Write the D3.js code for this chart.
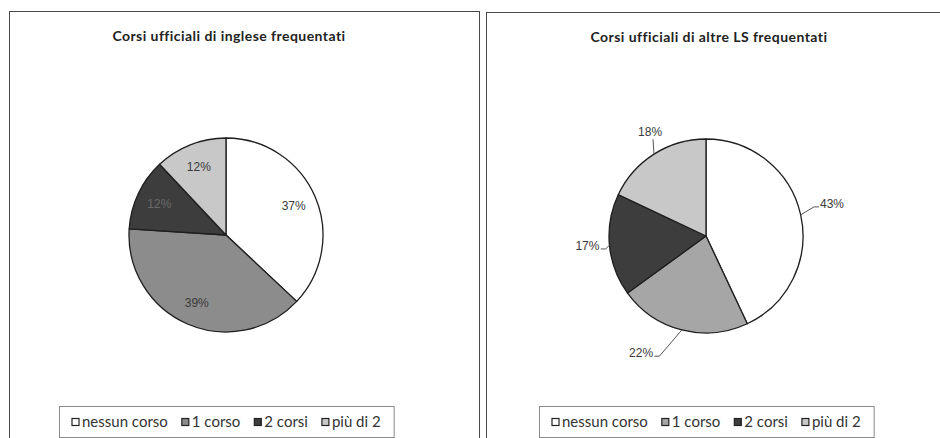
<!DOCTYPE html>
<html>
<head>
<meta charset="utf-8">
<script src="https://cdn.jsdelivr.net/npm/d3@7"></script>
<style>
  html, body { margin: 0; padding: 0; background: #fff; }
  svg { display: block; }
</style>
</head>
<body>
<svg id="chart" width="940" height="438"></svg>
<script>
// Categories shared by both pies
const categories = ["nessun corso", "1 corso", "2 corsi", "più di 2"];

// Percentages per chart
const ingleseValues = [37, 39, 12, 12];
const altreValues = [43, 22, 17, 18];

const titles = ["Corsi ufficiali di inglese frequentati", "Corsi ufficiali di altre LS frequentati"];

// Slice fills (left chart uses a darker mid grey than the right one)
const ingleseColors = ["#ffffff", "#8c8c8c", "#3d3d3d", "#c8c8c8"];
const altreColors = ["#ffffff", "#a6a6a6", "#3d3d3d", "#c8c8c8"];

// Callout placement for the second chart: [angle nudge in degrees, distance beyond the rim]
const calloutNudge = [[-1.7, 33], [14.6, 37], [0.6, 22], [4.1, 21]];

const svg = d3.select("#chart");
const R = 97;

const panels = [
  { x: 9, y: 11, w: 470, cx: 226, cy: 235, values: ingleseValues, colors: ingleseColors, title: titles[0], outside: false },
  { x: 486, y: 12, w: 470, cx: 706, cy: 236, values: altreValues, colors: altreColors, title: titles[1], outside: true }
];

const pie = d3.pie().sort(null).value(d => d);
const arc = d3.arc().innerRadius(0).outerRadius(R);
const labelFont = "'Liberation Sans', Arial, sans-serif";
const textFont = "Lato, 'Open Sans', sans-serif";

panels.forEach(p => {
  const g = svg.append("g");

  // panel frame (runs past the bottom edge)
  g.append("rect")
    .attr("x", p.x + 0.5).attr("y", p.y + 0.5)
    .attr("width", p.w).attr("height", 460)
    .attr("fill", "none").attr("stroke", "#4a4a4a").attr("stroke-width", 1);

  // title
  g.append("text")
    .attr("x", p.cx + 3).attr("y", p.y + 30)
    .attr("text-anchor", "middle")
    .attr("font-family", textFont)
    .attr("font-weight", "bold")
    .attr("font-size", 14)
    .attr("letter-spacing", 0.45)
    .attr("fill", "#222")
    .text(p.title);

  const pg = g.append("g").attr("transform", `translate(${p.cx},${p.cy})`);
  const arcs = pie(p.values);

  pg.selectAll("path.slice").data(arcs).join("path")
    .attr("class", "slice")
    .attr("d", arc)
    .attr("fill", (d, i) => p.colors[i])
    .attr("stroke", "#1e1e1e")
    .attr("stroke-width", 1.3)
    .attr("stroke-linejoin", "round");

  if (!p.outside) {
    // labels inside the slices
    const inner = d3.arc().innerRadius(R * 0.76).outerRadius(R * 0.76);
    pg.selectAll("text.lbl").data(arcs).join("text")
      .attr("class", "lbl")
      .attr("transform", d => `translate(${inner.centroid(d)})`)
      .attr("text-anchor", "middle")
      .attr("dy", "0.35em")
      .attr("font-family", labelFont)
      .attr("font-size", 12)
      .attr("fill", (d, i) => i === 2 ? "#6a6a6a" : "#3a3a3a")
      .text(d => d.data + "%");
  } else {
    // callout labels outside the pie with leader lines
    arcs.forEach((d, i) => {
      const mid = (d.startAngle + d.endAngle) / 2;
      const la = mid + calloutNudge[i][0] * Math.PI / 180;
      const lr = R + calloutNudge[i][1];
      const lx = lr * Math.sin(la), ly = -lr * Math.cos(la);
      const t = pg.append("text")
        .attr("x", lx).attr("y", ly)
        .attr("text-anchor", "middle")
        .attr("dy", "0.35em")
        .attr("font-family", labelFont)
        .attr("font-size", 12)
        .attr("fill", "#3a3a3a")
        .text(d.data + "%");
      const bb = t.node().getBBox();
      const ex = R * Math.sin(mid), ey = -R * Math.cos(mid);
      let pts;
      const dx = lx - ex, dy = ly - ey;
      if (Math.abs(dy) > Math.abs(dx) * 1.5) {
        const ty = dy < 0 ? bb.y + bb.height : bb.y;
        pts = [[ex, ey], [ex - 1, ty]];
      } else {
        const tx = dx > 0 ? bb.x - 1 : bb.x + bb.width + 1;
        const stub = dx > 0 ? -5 : 5;
        pts = [[ex, ey], [tx + stub, ly + 3], [tx, ly + 3]];
      }
      pg.append("path")
        .attr("d", d3.line()(pts))
        .attr("fill", "none")
        .attr("stroke", "#555")
        .attr("stroke-width", 1);
    });
  }

  // legend
  const lg = g.append("g");
  const items = lg.selectAll("g.item").data(categories).join("g").attr("class", "item");
  items.append("rect")
    .attr("width", 7).attr("height", 7)
    .attr("y", -3.5)
    .attr("fill", (d, i) => p.colors[i])
    .attr("stroke", "#222").attr("stroke-width", 1.2);
  items.append("text")
    .attr("x", 10).attr("dy", "0.33em")
    .attr("font-family", textFont)
    .attr("font-size", 15)
    .attr("fill", "#333")
    .text(d => d);

  const gap = 14;
  const offsets = [];
  let xoff = 0;
  items.each(function () {
    offsets.push(xoff);
    xoff += this.getBBox().width + gap;
  });
  const total = xoff - gap;
  const boxW = total + 26;
  const boxX = Math.round(p.cx - boxW / 2);
  const ly0 = 422;
  lg.insert("rect", ":first-child")
    .attr("x", boxX + 0.5).attr("y", ly0 - 15.5)
    .attr("width", boxW).attr("height", 31)
    .attr("fill", "#fff").attr("stroke", "#8a8a8a").attr("stroke-width", 1);
  items.attr("transform", (d, i) => `translate(${boxX + 13 + offsets[i]},${ly0})`);
});
</script>
</body>
</html>
